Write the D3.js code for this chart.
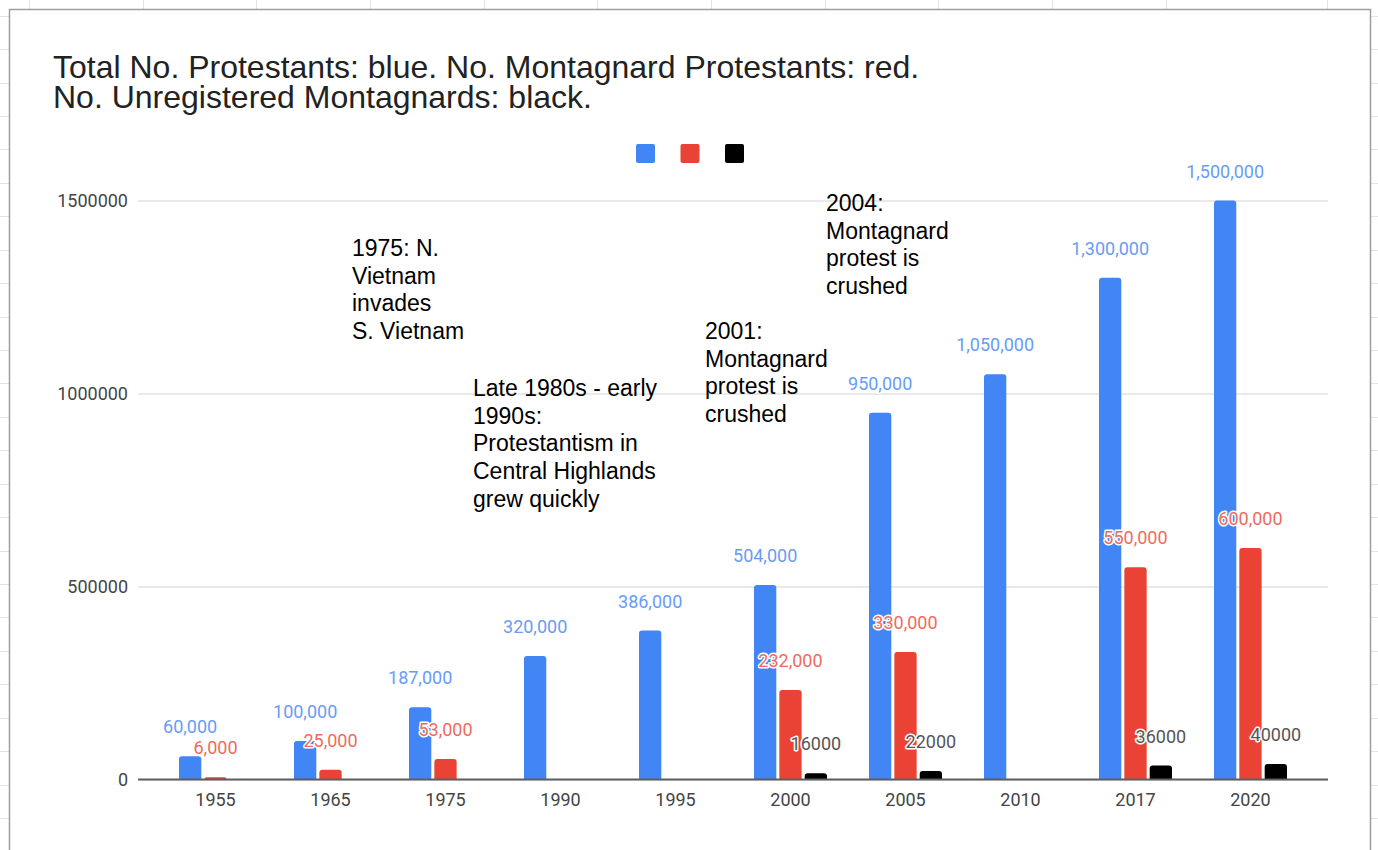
<!DOCTYPE html>
<html lang="en">
<head>
    <meta charset="UTF-8">
    <title>Protestants in Vietnam</title>
    <script src="https://d3js.org/d3.v7.min.js"></script>
    <style>
        body {
            margin: 0;
            background: #fff;
        }

        svg {
            display: block;
        }

        .title {
            font-family: "Liberation Sans", Arial, sans-serif;
            font-size: 32px;
            fill: #222;
        }

        .note {
            font-family: "Liberation Sans", Arial, sans-serif;
            font-size: 23px;
            fill: #000;
        }

        .tick text {
            font-family: Roboto, sans-serif;
            font-size: 18px;
            fill: #444;
        }

        .value {
            font-family: Roboto, sans-serif;
            font-size: 18px;
            text-anchor: middle;
            paint-order: stroke;
            stroke: #fff;
            stroke-width: 3px;
            stroke-linejoin: round;
        }
    </style>
</head>
<body>
    <div id="chart"></div>

    <script>
        // values
        const years = ["1955", "1965", "1975", "1990", "1995", "2000", "2005", "2010", "2017", "2020"];
        const totalProtestants = [60000, 100000, 187000, 320000, 386000, 504000, 950000, 1050000, 1300000, 1500000];
        const montagnardProtestants = [6000, 25000, 53000, null, null, 232000, 330000, null, 550000, 600000];
        const unregisteredMontagnards = [null, null, null, null, null, 16000, 22000, null, 36000, 40000];
        const yTicks = [0, 500000, 1000000, 1500000];

        const titleLines = [
            "Total No. Protestants: blue. No. Montagnard Protestants: red.",
            "No. Unregistered Montagnards: black."
        ];

        const notes = [
            ["1975: N.", "Vietnam", "invades", "S. Vietnam"],
            ["Late 1980s - early", "1990s:", "Protestantism in", "Central Highlands", "grew quickly"],
            ["2001:", "Montagnard", "protest is", "crushed"],
            ["2004:", "Montagnard", "protest is", "crushed"]
        ];

        const width = 1378;
        const height = 850;
        const colors = ["#4285f4", "#ea4335", "#000000"];
        const labelColors = ["#689cf5", "#ef6a5e", "#555555"];

        const chartBox = { left: 9.5, top: 9.5, right: 1370.5 };
        const plot = { left: 138, right: 1328, top: 200.5, bottom: 779.5 };

        const svg = d3.select('#chart')
            .append('svg')
            .attr('width', width)
            .attr('height', height);

        // spreadsheet cells peeking out behind the chart
        const sheet = svg.append('g')
            .attr('stroke', '#e2e3e3')
            .attr('stroke-width', 1);

        d3.range(0, 26).forEach(k => {
            const yy = Math.round(15.7 + 33.43 * k) + 0.5;
            sheet.append('line').attr('x1', 0).attr('x2', width).attr('y1', yy).attr('y2', yy);
        });
        [29, 143, 256, 370, 484, 597, 711, 825, 938, 1052, 1166, 1327].forEach(xx => {
            sheet.append('line').attr('x1', xx + 0.5).attr('x2', xx + 0.5).attr('y1', 0).attr('y2', height);
        });

        svg.append('rect')
            .attr('x', chartBox.left)
            .attr('y', chartBox.top)
            .attr('width', chartBox.right - chartBox.left)
            .attr('height', height)
            .attr('fill', '#fff')
            .attr('stroke', '#9e9e9e')
            .attr('stroke-width', 1.5);

        svg.append('text')
            .attr('class', 'title')
            .attr('x', 53)
            .attr('y', 78)
            .selectAll('tspan')
            .data(titleLines)
            .join('tspan')
            .attr('x', 53)
            .attr('dy', (d, i) => i === 0 ? 0 : 30)
            .text(d => d);

        // legend: swatches only, the series have no names
        const legendMid = (chartBox.left + chartBox.right) / 2;
        svg.append('g')
            .selectAll('rect')
            .data(colors)
            .join('rect')
            .attr('x', (d, i) => legendMid + (i - 1) * 44.5 - 9.5)
            .attr('y', 144)
            .attr('width', 19)
            .attr('height', 19)
            .attr('rx', 2)
            .attr('fill', d => d);

        const x0 = d3.scaleBand()
            .domain(years)
            .range([plot.left, plot.right])
            .paddingInner(0.365)
            .paddingOuter(0.3565);

        const x1 = d3.scaleBand()
            .domain([0, 1, 2])
            .range([0, x0.bandwidth()])
            .paddingInner(0.12);

        const y = d3.scaleLinear()
            .domain([0, 1500000])
            .range([plot.bottom, plot.top]);

        const yAxis = svg.append('g')
            .attr('transform', `translate(${plot.left},0)`)
            .call(d3.axisLeft(y)
                .tickValues(yTicks)
                .tickFormat(d3.format('d'))
                .tickSize(-(plot.right - plot.left))
                .tickPadding(10));
        yAxis.select('.domain').remove();
        yAxis.selectAll('.tick line').attr('stroke', '#d3d3d3');

        const xAxis = svg.append('g')
            .attr('transform', `translate(0,${plot.bottom})`)
            .call(d3.axisBottom(x0).tickSize(0).tickPadding(14));
        xAxis.select('.domain').remove();

        const series = [totalProtestants, montagnardProtestants, unregisteredMontagnards];
        const cells = [];
        series.forEach((vals, s) => {
            vals.forEach((v, i) => {
                if (v != null) cells.push({ s, year: years[i], v });
            });
        });

        function topRounded(x, yTop, w, h, r) {
            r = Math.min(r, h, w / 2);
            return `M${x},${yTop + h}V${yTop + r}Q${x},${yTop} ${x + r},${yTop}` +
                `H${x + w - r}Q${x + w},${yTop} ${x + w},${yTop + r}V${yTop + h}Z`;
        }

        svg.append('g')
            .selectAll('path')
            .data(cells)
            .join('path')
            .attr('fill', d => colors[d.s])
            .attr('d', d => topRounded(
                x0(d.year) + x1(d.s), y(d.v), x1.bandwidth(), y(0) - y(d.v), 3));

        // baseline over the bars
        svg.append('line')
            .attr('x1', plot.left)
            .attr('x2', plot.right)
            .attr('y1', y(0))
            .attr('y2', y(0))
            .attr('stroke', '#5f5f5f')
            .attr('stroke-width', 2);

        const comma = d3.format(',');
        svg.append('g')
            .selectAll('text')
            .data(cells)
            .join('text')
            .attr('class', 'value')
            .attr('fill', d => labelColors[d.s])
            .attr('x', d => x0(d.year) + x1(d.s) + x1.bandwidth() / 2)
            .attr('y', d => y(d.v) - 23)
            .text(d => d.s === 2 ? String(d.v) : comma(d.v));

        // free-floating notes placed on the sheet by hand
        const notePos = [[352, 256], [473, 396], [705, 339], [826, 211]];
        const noteG = svg.append('g');
        notes.forEach((lines, n) => {
            noteG.append('text')
                .attr('class', 'note')
                .attr('y', notePos[n][1])
                .selectAll('tspan')
                .data(lines)
                .join('tspan')
                .attr('x', notePos[n][0])
                .attr('dy', (d, i) => i === 0 ? 0 : 27.7)
                .text(d => d);
        });
    </script>
</body>
</html>
